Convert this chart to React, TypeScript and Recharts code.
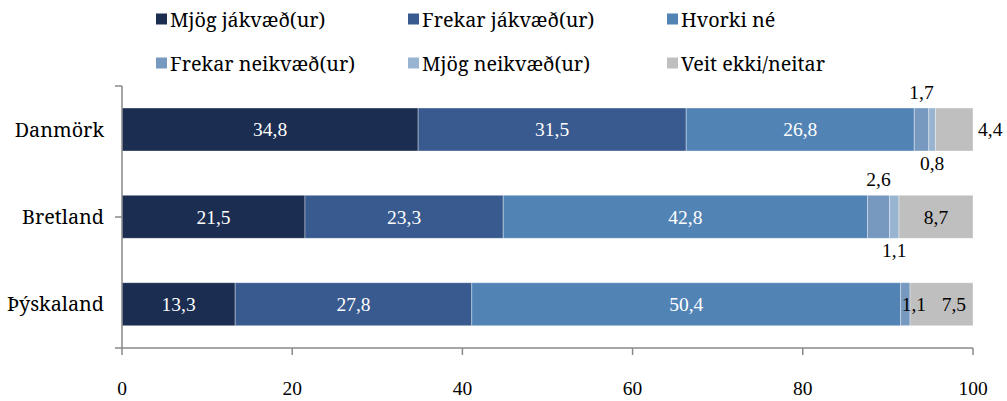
import React from 'react';
import { BarChart, Bar, XAxis, YAxis, LabelList } from 'recharts';

const categories = ['Danmörk', 'Bretland', 'Þýskaland'];
const seriesNames = [
  'Mjög jákvæð(ur)',
  'Frekar jákvæð(ur)',
  'Hvorki né',
  'Frekar neikvæð(ur)',
  'Mjög neikvæð(ur)',
  'Veit ekki/neitar',
];
const mjogJakvaed = [34.8, 21.5, 13.3];
const frekarJakvaed = [31.5, 23.3, 27.8];
const hvorkiNe = [26.8, 42.8, 50.4];
const frekarNeikvaed = [1.7, 2.6, 1.1];
const mjogNeikvaed = [0.8, 1.1, 0];
const veitEkki = [4.4, 8.7, 7.5];
const xTicks = [0, 20, 40, 60, 80, 100];
const categoryBoundaryTicks = [0, 1, 2, 3];

const seriesValues = [mjogJakvaed, frekarJakvaed, hvorkiNe, frekarNeikvaed, mjogNeikvaed, veitEkki];
const seriesKeys = ['s0', 's1', 's2', 's3', 's4', 's5'];

const data = categories.map((name, i) => {
  const row: Record<string, any> = { name };
  seriesKeys.forEach((k, j) => {
    row[k] = seriesValues[j][i];
  });
  return row;
});

const COLORS = ['#1b2e51', '#395a8e', '#5283b5', '#7899bf', '#98b4d1', '#bfbfbf'];
const WORD_FONT = '"Noto Serif", "DejaVu Serif", serif';
const NUM_FONT = '"Liberation Serif", serif';
const NUM_SIZE = 19.5;
const WORD_SIZE = 19.8;
const AXIS_COLOR = '#898989';

type Placement = 'inside' | 'insideEnd' | 'above' | 'below' | 'right' | 'none';
const placements: Placement[][] = [
  ['inside', 'inside', 'inside'],
  ['inside', 'inside', 'inside'],
  ['inside', 'inside', 'inside'],
  ['above', 'above', 'inside'],
  ['below', 'below', 'none'],
  ['right', 'inside', 'insideEnd'],
];
const labelColors = ['#ffffff', '#ffffff', '#ffffff', '#000000', '#000000', '#000000'];

const fmt = (v: number) => v.toFixed(1).replace('.', ',');

const makeLabel = (seriesIndex: number) => (props: any) => {
  const vb = props.viewBox || {};
  const x = Number(vb.x ?? props.x);
  const y = Number(vb.y ?? props.y);
  const w = Number(vb.width ?? props.width);
  const h = Number(vb.height ?? props.height);
  const v = Number(props.value);
  const idx = Number(props.index);
  if (!v || !isFinite(x)) return null;
  const p = placements[seriesIndex][idx] || 'inside';
  if (p === 'none') return null;
  const text = fmt(v);
  const estW = (text.length - 1) * 0.5 * NUM_SIZE + 0.25 * NUM_SIZE;
  const cx = x + w / 2;
  const cy = y + h / 2;
  let tx = cx;
  let ty = cy + 6.8;
  let anchor: 'middle' | 'start' | 'end' = 'middle';
  if (p === 'above') {
    ty = y - 9;
  } else if (p === 'below') {
    ty = y + h + 19;
  } else if (p === 'right') {
    tx = x + w + 5;
    anchor = 'start';
  } else if (p === 'insideEnd') {
    tx = x + w - 7;
    anchor = 'end';
  } else if (p === 'inside' && estW > w) {
    tx = x + 1;
    anchor = 'start';
  }
  return (
    <text
      x={tx}
      y={ty}
      textAnchor={anchor}
      fill={labelColors[seriesIndex]}
      fontFamily={NUM_FONT}
      fontSize={NUM_SIZE}
    >
      {text}
    </text>
  );
};

const CategoryTick = (props: any) => {
  const { x, y, payload } = props;
  return (
    <text
      x={x}
      y={Number(y) + 7}
      textAnchor="end"
      fill="#000"
      fontFamily={WORD_FONT}
      fontSize={WORD_SIZE}
    >
      {payload.value}
    </text>
  );
};

const EmptyTick = () => <g />;

const legendCols = [156, 408, 667];
const legendRows = [19, 63];

export default function App() {
  return (
    <div style={{ position: 'relative', width: 1007, height: 401 }}>
      <style>{`body{margin:0;}`}</style>
      <BarChart
        layout="vertical"
        width={1007}
        height={401}
        data={data}
        margin={{ top: 86, right: 34, bottom: 0, left: 0 }}
        barSize={43}
      >
        <YAxis
          yAxisId="grid"
          type="number"
          domain={[0, 3]}
          ticks={categoryBoundaryTicks}
          mirror
          tick={EmptyTick}
          tickSize={-7}
          axisLine={{ stroke: AXIS_COLOR, strokeWidth: 1.5 }}
          tickLine={{ stroke: AXIS_COLOR, strokeWidth: 1.5 }}
        />
        <YAxis
          yAxisId="cat"
          type="category"
          dataKey="name"
          width={122}
          axisLine={false}
          tickLine={false}
          tickSize={7}
          tickMargin={11}
          tick={CategoryTick}
        />
        <XAxis
          type="number"
          domain={[0, 100]}
          ticks={xTicks}
          allowDataOverflow
          height={53}
          tickSize={7}
          tickMargin={26}
          axisLine={{ stroke: AXIS_COLOR, strokeWidth: 1.5 }}
          tickLine={{ stroke: AXIS_COLOR, strokeWidth: 1.5 }}
          tick={{ fill: '#000', fontFamily: NUM_FONT, fontSize: NUM_SIZE }}
        />
        {seriesKeys.map((k, j) => (
          <Bar
            key={k}
            yAxisId="cat"
            dataKey={k}
            name={seriesNames[j]}
            stackId="a"
            fill={COLORS[j]}
            stroke="#ffffff"
            strokeOpacity={0.45}
            strokeWidth={0.8}
            isAnimationActive={false}
          >
            <LabelList dataKey={k} content={makeLabel(j)} />
          </Bar>
        ))}
      </BarChart>
      <svg
        width={1007}
        height={80}
        style={{ position: 'absolute', left: 0, top: 0, pointerEvents: 'none' }}
      >
        {seriesNames.map((n, j) => {
          const col = legendCols[j % 3];
          const row = legendRows[Math.floor(j / 3)];
          return (
            <g key={n}>
              <rect x={col} y={row - 5.5} width={11} height={11} fill={COLORS[j]} />
              <text
                x={col + 14}
                y={row + 7.5}
                fontFamily={WORD_FONT}
                fontSize={WORD_SIZE}
                fill="#000"
              >
                {n}
              </text>
            </g>
          );
        })}
      </svg>
    </div>
  );
}
